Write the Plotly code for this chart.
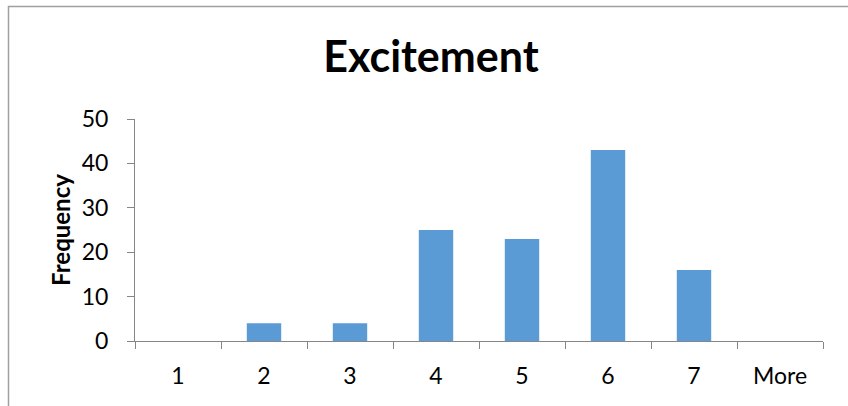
import plotly.graph_objects as go

# Histogram bins and their counts
bins = ["1", "2", "3", "4", "5", "6", "7", "More"]
frequency = [0, 4, 4, 25, 23, 43, 16, 0]
y_ticks = [0, 10, 20, 30, 40, 50]

W, H = 848, 406
ML, MR, MT, MB = 135, 25, 119, 65
pw, ph = W - ML - MR, H - MT - MB

axis_color = "#868686"
font_family = "Lato, 'Open Sans', sans-serif"

fig = go.Figure(
    go.Bar(
        x=bins,
        y=frequency,
        marker=dict(color="#5B9BD5", line=dict(width=0)),
        width=0.4,
    )
)

fig.update_layout(
    width=W,
    height=H,
    margin=dict(l=ML, r=MR, t=MT, b=MB),
    paper_bgcolor="white",
    plot_bgcolor="white",
    showlegend=False,
    font=dict(family=font_family, color="#000000"),
    title=dict(
        text="<b>Excitement</b>",
        font=dict(size=43, family=font_family, color="#000000"),
        x=431 / W,
        xanchor="center",
        y=1 - 57 / H,
        yanchor="middle",
    ),
)

fig.update_xaxes(
    type="category",
    showline=True,
    linecolor=axis_color,
    linewidth=1,
    ticks="outside",
    tickson="boundaries",
    ticklen=7,
    tickcolor=axis_color,
    tickfont=dict(size=23, family=font_family, color="#000000"),
    ticklabelstandoff=14,
    showgrid=False,
    zeroline=False,
    range=[-0.5, len(bins) - 0.5],
)

fig.update_yaxes(
    range=[0, 50],
    tickvals=y_ticks,
    showline=True,
    linecolor=axis_color,
    linewidth=1,
    ticks="outside",
    ticklen=7,
    tickcolor=axis_color,
    tickfont=dict(size=23, family=font_family, color="#000000"),
    ticklabelstandoff=14,
    showgrid=False,
    zeroline=False,
    title=dict(
        text="<b>Frequency</b>",
        font=dict(size=24, family=font_family, color="#000000"),
        standoff=4,
    ),
)

# Chart-area frame
fig.add_shape(
    type="rect",
    xref="paper",
    yref="paper",
    x0=(8.5 - ML) / pw,
    x1=(W + 5 - ML) / pw,
    y0=(MT + ph - (H + 5)) / ph,
    y1=(MT + ph - 6.5) / ph,
    line=dict(color="#A0A0A0", width=1.5),
    fillcolor="rgba(0,0,0,0)",
    layer="below",
)

fig.write_html("out.html")
